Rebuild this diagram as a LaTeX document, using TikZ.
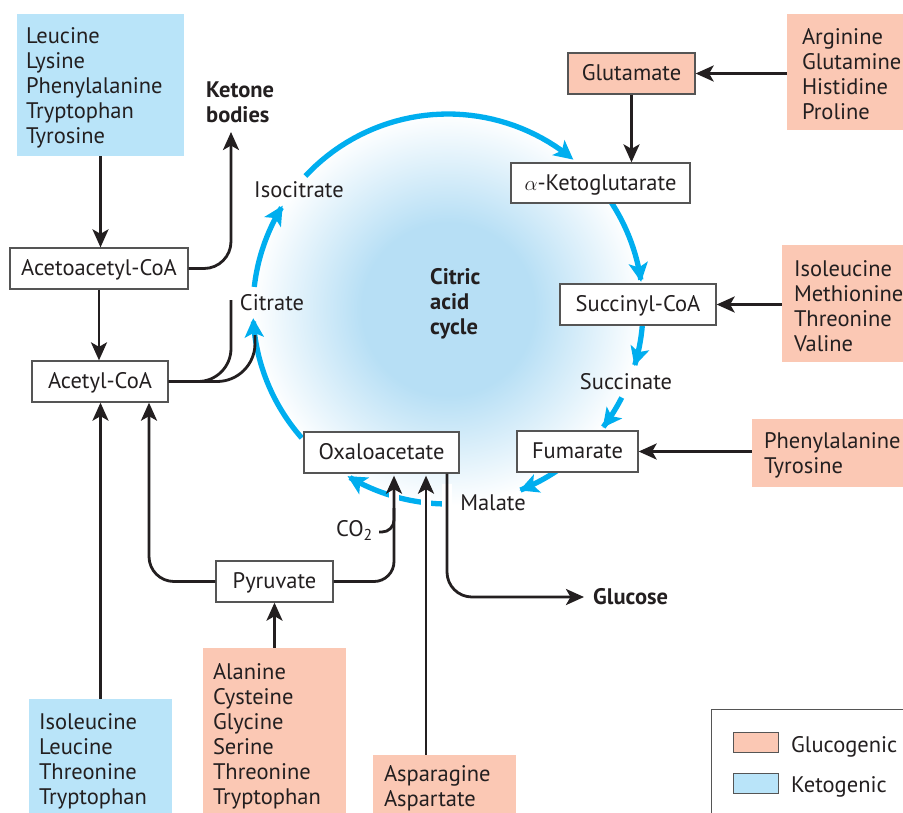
\documentclass[tikz,border=0pt]{standalone}
\usepackage{fontspec}
\setmainfont{PT Sans}
\usetikzlibrary{arrows.meta,calc}
\definecolor{salm}{RGB}{251,200,180}
\definecolor{ketb}{RGB}{185,228,249}
\definecolor{cyc}{RGB}{0,174,239}
\definecolor{cycin}{RGB}{183,223,245}
\definecolor{ink}{RGB}{35,31,32}
\definecolor{bgray}{RGB}{85,85,85}
\pgfdeclareradialshading{cycshade}{\pgfpoint{0bp}{0bp}}{color(0bp)=(cycin); color(11bp)=(cycin); color(25bp)=(white); color(50bp)=(white)}
\newcommand\cyarc[2]{\draw[carr] plot[domain=#1:#2, samples=40, variable=\t] ({448+195*cos(\t)},{309+195*sin(\t)});}
\newcommand\topstrut{\rule{0pt}{21pt}}
\begin{document}
\begin{tikzpicture}[x=1pt,y=-1pt,
  every node/.style={font=\fontsize{22.5}{25}\selectfont, text=ink},
  wbox/.style={draw=bgray, line width=1.3pt, fill=white, minimum height=41pt, text height=16pt, text depth=2pt, inner xsep=0pt},
  lbox/.style={fill=#1, align=left, inner ysep=0pt},
  lbl/.style={inner sep=0pt},
  bold/.style={font=\fontsize{22.5}{25}\selectfont\bfseries},
  bline/.style={draw=ink, line width=2.8pt},
  barr/.style={bline, -{Stealth[length=18pt,width=16pt,inset=4.5pt]}},
  carr/.style={draw=cyc, line width=5.3pt, -{Stealth[length=19pt,width=19pt,inset=4.5pt]}},
  gapline/.style={draw=white, line width=10pt}
]
\useasboundingbox (0,0) rectangle (903,812);

% cycle background
\shade[shading=cycshade] (448,309) circle[radius=196pt];

% cycle arrows
\cyarc{-137}{-50}
\cyarc{-33}{-8}
\cyarc{5}{17}
\cyarc{27}{37.5}
\cyarc{56}{68.5}
\cyarc{89}{121}
\cyarc{138.6}{177.3}
\cyarc{186.5}{212}
\foreach \gx in {394,426,447} \draw[gapline] (\gx,484) -- (\gx,516);

% amino acid boxes
\node[lbox=ketb, minimum width=167pt, minimum height=142pt, text width=149pt, inner xsep=9pt] (ketoA) at (100.5,85) {\topstrut Leucine\\Lysine\\Phenylalanine\\Tryptophan\\Tyrosine};
\node[lbox=salm, minimum width=123pt, minimum height=116pt, text width=93pt, inner xsep=15pt] (gluA) at (848.5,72) {\topstrut Arginine\\Glutamine\\Histidine\\Proline};
\node[lbox=salm, minimum width=128pt, minimum height=117pt, text width=104pt, inner xsep=12pt] (gluB) at (846,303.5) {\topstrut Isoleucine\\Methionine\\Threonine\\Valine};
\node[lbox=salm, minimum width=158pt, minimum height=68pt, text width=134pt, inner xsep=12pt] (gluC) at (831,453) {\topstrut Phenylalanine\\Tyrosine};
\node[lbox=salm, minimum width=143pt, minimum height=171pt, text width=123pt, inner xsep=10pt] (gluD) at (274.5,733.5) {\topstrut Alanine\\Cysteine\\Glycine\\Serine\\Threonine\\Tryptophan};
\node[lbox=salm, minimum width=143pt, minimum height=61pt, text width=121pt, inner xsep=11pt] (gluE) at (444.5,785.5) {\topstrut Asparagine\\Aspartate};
\node[lbox=ketb, minimum width=143pt, minimum height=119pt, text width=123pt, inner xsep=10pt] (ketoB) at (100.5,758.5) {\topstrut Isoleucine\\Leucine\\Threonine\\Tryptophan};

% intermediate boxes
\node[wbox, minimum width=178pt] (aa) at (99,268.5) {Acetoacetyl-CoA};
\node[wbox, minimum width=136pt] (ac) at (100,381.5) {Acetyl-CoA};
\node[wbox, minimum width=179pt, minimum height=40pt] (akg) at (600.5,183) {$\alpha$-Ketoglutarate};
\node[wbox, fill=salm, minimum width=127pt] (glu) at (631.5,73.5) {Glutamate};
\node[wbox, minimum width=156pt] (suc) at (638,304.5) {Succinyl-CoA};
\node[wbox, minimum width=121pt] (fum) at (577.5,451.5) {Fumarate};
\node[wbox, minimum width=155pt] (oxa) at (381.5,452.5) {Oxaloacetate};
\node[wbox, minimum width=117pt] (pyr) at (274.5,581.5) {Pyruvate};

% plain labels
\node[lbl, anchor=base] (iso) at (299,197.5) {Isocitrate};
\node[lbl, anchor=base] (cit) at (272,310.5) {Citrate};
\node[lbl, anchor=base] (scn) at (626,389.5) {Succinate};
\node[lbl, anchor=base] (mal) at (493,510.5) {Malate};
\node[lbl, anchor=base east] (co2) at (373,536) {CO\textsubscript{2}};
\node[lbl, bold, anchor=west, align=left] (cac) at (430,304) {Citric\\acid\\cycle};
\node[lbl, bold, anchor=west, align=left] (kb) at (206,102) {Ketone\\bodies};
\node[lbl, bold, anchor=west] (glc) at (593,597) {Glucose};

\coordinate (kt) at (231,132);
\coordinate (kt2) at (231,300);
\coordinate (ct) at (255,335);
\coordinate (co2s) at (379,532);
\coordinate (co2e) at (394,508);
\coordinate (gtip) at ($(glc.west)+(-9,0)$);

% connectors
\draw[barr] (ketoA.south) -- (ketoA.south |- aa.north);
\draw[barr] (aa.south) -- (aa.south |- ac.north);
\draw[barr, rounded corners=27pt] (aa.east) -| (kt);
\draw[bline, rounded corners=33pt] (ac.east) -| (kt2);
\draw[bline, rounded corners=38pt] (ac.east) -| (ct);
\draw[barr] (ketoB.north) -- (ketoB.north |- ac.south);
\draw[barr, rounded corners=25pt] (pyr.west) -| ($(ac.south)+(49,0)$);
\draw[barr] (gluD.north) -- (gluD.north |- pyr.south);
\draw[barr, rounded corners=20pt] (pyr.east) -| ($(oxa.south)+(12.5,2)$);
\draw[bline, rounded corners=12pt] (co2s) -| (co2e);
\draw[barr] ($(gluE.north)+(-18.5,0)$) -- ($(oxa.south)+(44.5,2)$);
\draw[barr, rounded corners=25pt] ($(oxa.south)+(65.5,0)$) |- (gtip);
\draw[barr] (glu.east -| gluA.west) -- (glu.east);
\draw[barr] (glu.south) -- (glu.south |- akg.north);
\draw[barr] (suc.east -| gluB.west) -- (suc.east);
\draw[barr] (fum.east -| gluC.west) -- (fum.east);

% legend
\node[draw=bgray, line width=1.3pt, minimum width=215pt, minimum height=120pt, anchor=north west] (leg) at (711,709) {};
\node[draw=bgray, line width=1pt, fill=salm, minimum width=45pt, minimum height=20pt, inner sep=0pt] (swg) at (755.5,742) {};
\node[draw=bgray, line width=1pt, fill=ketb, minimum width=45pt, minimum height=20pt, inner sep=0pt] (swk) at (755.5,783.5) {};
\node[lbl, anchor=base west] (lg) at (791,752) {Glucogenic};
\node[lbl, anchor=base west] (lk) at (791,792) {Ketogenic};
\end{tikzpicture}
\end{document}
